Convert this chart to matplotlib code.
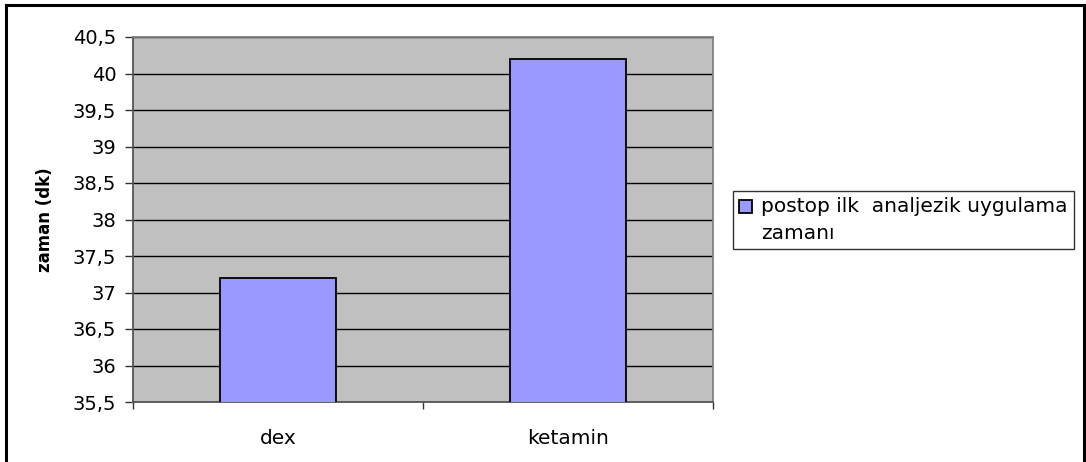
import matplotlib
matplotlib.use("Agg")
import matplotlib.pyplot as plt
from matplotlib.patches import Rectangle
from matplotlib.container import BarContainer
from matplotlib.legend_handler import HandlerPatch, update_from_first_child

categories = ["dex", "ketamin"]
values = [37.2, 40.2]
series_name = "postop ilk  analjezik uygulama\nzamanı"
y_ticks = [35.5, 36, 36.5, 37, 37.5, 38, 38.5, 39, 39.5, 40, 40.5]
y_label = "zaman (dk)"

plt.rcParams["font.family"] = ["DejaVu Sans"]

W, H = 1086, 462
fig = plt.figure(figsize=(W / 100, H / 100), dpi=100)
fig.patch.set_facecolor("white")

# outer chart border (left, top, right)
fig.add_artist(plt.Line2D([6 / W, 6 / W], [0, 1 - 5 / H], color="black", lw=2.2))
fig.add_artist(plt.Line2D([6 / W, 1084 / W], [1 - 5 / H, 1 - 5 / H], color="black", lw=2.2))
fig.add_artist(plt.Line2D([1084 / W, 1084 / W], [0, 1 - 5 / H], color="black", lw=2.2))

left, right, top, bottom = 133, 713, 37, 402
ax = fig.add_axes([left / W, 1 - bottom / H, (right - left) / W, (bottom - top) / H])
ax.set_facecolor("#C0C0C0")

x = list(range(len(categories)))
bars = ax.bar(x, values, width=0.4, bottom=0, color="#9999FF", edgecolor="black",
              linewidth=1.3, zorder=3, label=series_name)

ax.set_xlim(-0.5, len(categories) - 0.5)
ax.set_ylim(y_ticks[0], y_ticks[-1])
ax.set_yticks(y_ticks)
ax.set_yticklabels([f"{t:g}".replace(".", ",") for t in y_ticks], fontsize=14)
ax.yaxis.grid(True, color="black", linewidth=1.0, zorder=0)
ax.set_axisbelow(True)

ax.set_xticks([-0.5, 0.5, 1.5])
ax.set_xticklabels([])
ax.tick_params(axis="x", direction="out", length=5, width=1, color="#333333")
ax.tick_params(axis="y", direction="out", length=6, width=1, color="#333333", pad=6)
for i, c in enumerate(categories):
    ax.text(i, -0.075, c, transform=ax.get_xaxis_transform(), ha="center",
            va="top", fontsize=14.5)

fig.text(45 / W, 1 - 220 / H, y_label, rotation=90, ha="center", va="center",
         fontsize=12, fontweight="bold")

for s in ["left", "bottom"]:
    ax.spines[s].set_color("#555555")
    ax.spines[s].set_linewidth(1.3)
for s in ["top", "right"]:
    ax.spines[s].set_color("#808080")
    ax.spines[s].set_linewidth(1.3)


def first_line_swatch(legend, orig_handle, xdescent, ydescent, width, height, fontsize):
    # keep the colour swatch level with the first line of a wrapped label
    return Rectangle((-xdescent, -ydescent + 10), width, height)


leg = fig.legend(loc="upper left", bbox_to_anchor=(733 / W, 1 - 191 / H),
                 fontsize=14.5, frameon=True, fancybox=False, handlelength=0.65,
                 handleheight=0.65, handletextpad=0.45, borderpad=0.3,
                 labelspacing=0.2, borderaxespad=0,
                 handler_map={BarContainer: HandlerPatch(patch_func=first_line_swatch,
                                                         update_func=update_from_first_child)})
leg.get_texts()[0].set_linespacing(1.5)
leg.get_frame().set_edgecolor("black")
leg.get_frame().set_linewidth(1.0)

fig.savefig("out.png", dpi=100, facecolor="white")
